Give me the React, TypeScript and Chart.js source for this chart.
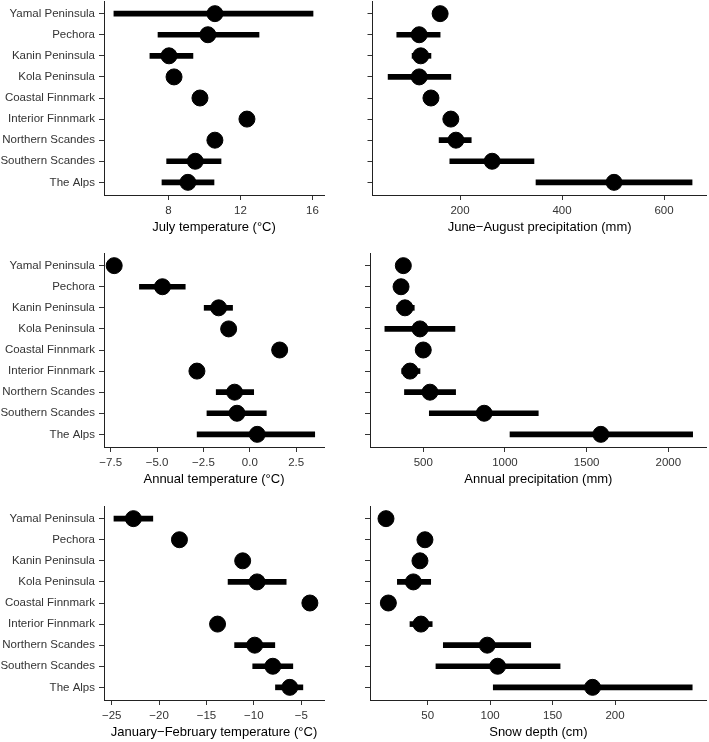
import React, { useEffect, useRef } from "react";
import { Chart, registerables } from "chart.js";

Chart.register(...registerables);

// ---------- data ----------
const categories = [
  "Yamal Peninsula",
  "Pechora",
  "Kanin Peninsula",
  "Kola Peninsula",
  "Coastal Finnmark",
  "Interior Finnmark",
  "Northern Scandes",
  "Southern Scandes",
  "The Alps",
];

const julyTemp = [10.58, 10.19, 8.03, 8.31, 9.75, 12.36, 10.58, 9.49, 9.08];
const julyTempLo = [4.97, 7.42, 6.97, null, null, null, null, 7.9, 7.64];
const julyTempHi = [16.03, 13.03, 9.36, null, null, null, null, 10.92, 10.53];
const julyTempTicks = [8, 12, 16];
const julyTempTickLabels = ["8", "12", "16"];

const summerPrecip = [161, 120, 123, 120, 143, 182, 192, 263, 502];
const summerPrecipLo = [null, 76, 106, 59, null, null, 159, 180, 349];
const summerPrecipHi = [null, 161, 143, 182, null, null, 222, 345, 655];
const summerPrecipTicks = [200, 400, 600];
const summerPrecipTickLabels = ["200", "400", "600"];

const annualTemp = [-7.31, -4.71, -1.68, -1.14, 1.61, -2.85, -0.82, -0.69, 0.4];
const annualTempLo = [null, -5.95, -2.46, null, null, null, -1.81, -2.31, -2.84];
const annualTempHi = [null, -3.48, -0.93, null, null, null, 0.21, 0.89, 3.5];
const annualTempTicks = [-7.5, -5, -2.5, 0, 2.5];
const annualTempTickLabels = ["\u22127.5", "\u22125.0", "\u22122.5", "0.0", "2.5"];

const annualPrecip = [378, 364, 388, 480, 500, 419, 541, 873, 1587];
const annualPrecipLo = [null, null, 337, 265, null, 368, 385, 537, 1031];
const annualPrecipHi = [null, null, 445, 694, null, 480, 698, 1204, 2149];
const annualPrecipTicks = [500, 1000, 1500, 2000];
const annualPrecipTickLabels = ["500", "1000", "1500", "2000"];

const winterTemp = [-22.71, -17.85, -11.18, -9.66, -4.09, -13.83, -9.91, -8.0, -6.21];
const winterTempLo = [-24.76, null, null, -12.72, null, null, -12.03, -10.12, -7.72];
const winterTempHi = [-20.66, null, null, -6.59, null, null, -7.79, -5.89, -4.83];
const winterTempTicks = [-25, -20, -15, -10, -5];
const winterTempTickLabels = ["\u221225", "\u221220", "\u221215", "\u221210", "\u22125"];

const snowDepth = [16.6, 47.8, 43.8, 38.5, 18.5, 44.6, 97.7, 106, 182];
const snowDepthLo = [null, null, null, 25.7, null, 35.8, 62.5, 56.6, 102.5];
const snowDepthHi = [null, null, null, 52.4, null, 53.6, 132.5, 156, 261.8];
const snowDepthTicks = [50, 100, 150, 200];
const snowDepthTickLabels = ["50", "100", "150", "200"];

// ---------- layout / style ----------
const FONT = '"Liberation Sans", Arial, Helvetica, sans-serif';
const TICK_SIZE = 11.5;
const TITLE_SIZE = 13;
const PLOT_H = 194;
const XAXIS_H = 42;

type Panel = {
  title: string;
  values: number[];
  lo: (number | null)[];
  hi: (number | null)[];
  ticks: number[];
  tickLabels: string[];
  min: number;
  max: number;
  left: number;
  top: number;
  width: number;
  axisWidth: number;
  padRight: number;
  showY: boolean;
};

const panels: Panel[] = [
  {
    title: "July temperature (\u00B0C)",
    values: julyTemp, lo: julyTempLo, hi: julyTempHi,
    ticks: julyTempTicks, tickLabels: julyTempTickLabels,
    min: 4.42, max: 16.64,
    left: 0, top: 1, width: 340, axisWidth: 104, padRight: 16, showY: true,
  },
  {
    title: "June\u2212August precipitation (mm)",
    values: summerPrecip, lo: summerPrecipLo, hi: summerPrecipHi,
    ticks: summerPrecipTicks, tickLabels: summerPrecipTickLabels,
    min: 28.4, max: 683.7,
    left: 340, top: 1, width: 369, axisWidth: 32.5, padRight: 2.3, showY: false,
  },
  {
    title: "Annual temperature (\u00B0C)",
    values: annualTemp, lo: annualTempLo, hi: annualTempHi,
    ticks: annualTempTicks, tickLabels: annualTempTickLabels,
    min: -7.86, max: 4.0,
    left: 0, top: 253, width: 340, axisWidth: 104, padRight: 16, showY: true,
  },
  {
    title: "Annual precipitation (mm)",
    values: annualPrecip, lo: annualPrecipLo, hi: annualPrecipHi,
    ticks: annualPrecipTicks, tickLabels: annualPrecipTickLabels,
    min: 174, max: 2235,
    left: 340, top: 253, width: 369, axisWidth: 30, padRight: 2.3, showY: false,
  },
  {
    title: "January\u2212February temperature (\u00B0C)",
    values: winterTemp, lo: winterTempLo, hi: winterTempHi,
    ticks: winterTempTicks, tickLabels: winterTempTickLabels,
    min: -25.81, max: -2.6,
    left: 0, top: 506, width: 340, axisWidth: 104, padRight: 16, showY: true,
  },
  {
    title: "Snow depth (cm)",
    values: snowDepth, lo: snowDepthLo, hi: snowDepthHi,
    ticks: snowDepthTicks, tickLabels: snowDepthTickLabels,
    min: 3.8, max: 273.4,
    left: 340, top: 506, width: 369, axisWidth: 30, padRight: 2.3, showY: false,
  },
];

function PanelChart({ panel }: { panel: Panel }) {
  const ref = useRef<HTMLCanvasElement | null>(null);
  const height = PLOT_H + XAXIS_H;

  useEffect(() => {
    if (!ref.current) return;
    const idx = categories.map((_, i) => i);
    const bars = idx
      .filter((i) => panel.lo[i] != null && panel.hi[i] != null)
      .map((i) => ({ x: [panel.lo[i] as number, panel.hi[i] as number], y: i }));
    const pts = idx.map((i) => ({ x: panel.values[i], y: i }));

    const chart = new Chart(ref.current, {
      type: "bar",
      data: {
        datasets: [
          {
            type: "scatter",
            data: pts as any,
            pointRadius: 8,
            pointHoverRadius: 8,
            pointBorderWidth: 1,
            backgroundColor: "#000",
            borderColor: "#000",
            order: 0,
            clip: false as any,
          } as any,
          {
            type: "bar",
            data: bars as any,
            backgroundColor: "#000",
            borderWidth: 0,
            barThickness: 5,
            order: 1,
            clip: false as any,
          } as any,
        ],
      },
      options: {
        indexAxis: "y",
        responsive: false,
        animation: false,
        devicePixelRatio: 1,
        events: [],
        layout: {
          autoPadding: false,
          padding: { left: 0, right: panel.padRight, top: 0, bottom: 0 },
        },
        plugins: { legend: { display: false }, tooltip: { enabled: false } },
        scales: {
          x: {
            type: "linear",
            min: panel.min,
            max: panel.max,
            beginAtZero: false,
            offset: false,
            afterBuildTicks: (s: any) => {
              s.ticks = panel.ticks.map((v) => ({ value: v }));
            },
            afterFit: (s: any) => {
              s.height = XAXIS_H;
            },
            ticks: {
              autoSkip: false,
              maxRotation: 0,
              padding: 4,
              color: "#333",
              font: { family: FONT, size: TICK_SIZE },
              callback: (_v: any, i: number) => panel.tickLabels[i],
            },
            grid: {
              display: true,
              drawOnChartArea: false,
              drawTicks: true,
              tickLength: 5,
              tickWidth: 1,
              tickColor: "#333",
              offset: false,
            },
            border: { display: true, color: "#222", width: 1 },
            title: {
              display: true,
              text: panel.title,
              color: "#000",
              font: { family: FONT, size: TITLE_SIZE },
              padding: { top: 2, bottom: 2 },
            },
          },
          y: {
            type: "linear",
            min: -0.6,
            max: 8.6,
            reverse: true,
            offset: false,
            afterBuildTicks: (s: any) => {
              s.ticks = idx.map((i) => ({ value: i }));
            },
            afterFit: (s: any) => {
              s.width = panel.axisWidth;
              s.paddingTop = 0;
              s.paddingBottom = 0;
            },
            ticks: {
              display: panel.showY,
              autoSkip: false,
              padding: 4,
              color: "#333",
              font: { family: FONT, size: TICK_SIZE },
              callback: (v: any) => categories[Math.round(Number(v))],
            },
            grid: {
              display: true,
              drawOnChartArea: false,
              drawTicks: true,
              tickLength: 5,
              tickWidth: 1,
              tickColor: "#333",
              offset: false,
            },
            border: { display: true, color: "#222", width: 1 },
          },
        },
      } as any,
    });
    return () => chart.destroy();
  }, [panel]);

  return (
    <canvas
      ref={ref}
      width={panel.width}
      height={height}
      style={{
        position: "absolute",
        left: panel.left,
        top: panel.top,
        width: panel.width,
        height: height,
        display: "block",
      }}
    />
  );
}

export default function App() {
  return (
    <div
      style={{
        position: "absolute",
        left: 0,
        top: 0,
        width: 709,
        height: 742,
        background: "#fff",
        overflow: "hidden",
      }}
    >
      {panels.map((p, i) => (
        <PanelChart key={i} panel={p} />
      ))}
    </div>
  );
}
